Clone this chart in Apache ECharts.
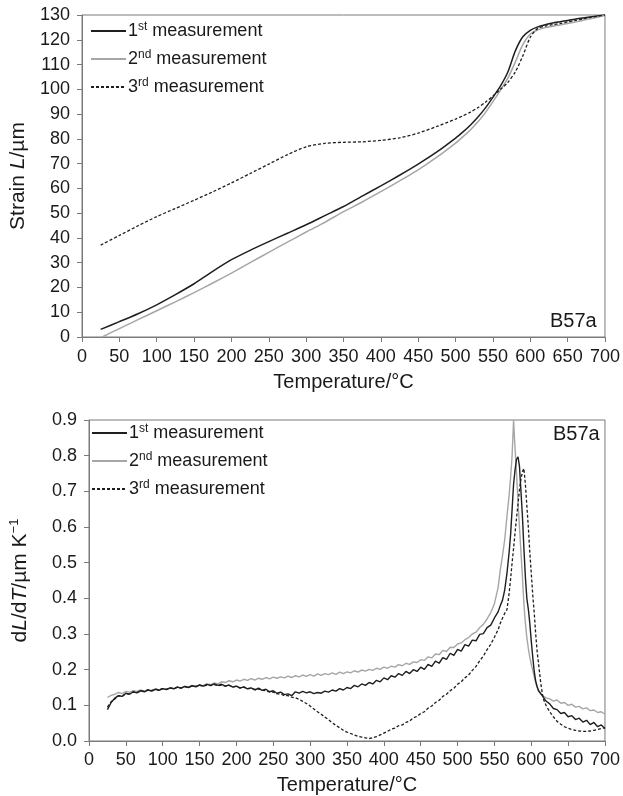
<!DOCTYPE html>
<html>
<head>
    <meta charset="utf-8">
    <script src="https://cdn.jsdelivr.net/npm/echarts@6/dist/echarts.min.js"></script>
</head>
<body style="margin:0;background-color:#fff;">
    <div id="container" style="width:623px;height:796px;"></div>
    <script type="text/javascript">
        var seriesNames = ['1st measurement', '2nd measurement', '3rd measurement'];

        // top panel: strain vs temperature, [T, L] pairs
        var strain1 = [[25, 3.1], [50, 6.2], [75, 9.4], [100, 13.0], [125, 17.1], [150, 21.5], [175, 26.5], [200, 31.2],
            [225, 35.0], [250, 38.5], [275, 41.9], [300, 45.3], [325, 49.0], [350, 52.7], [375, 56.9], [400, 61.0],
            [425, 65.3], [450, 69.8], [475, 74.7], [500, 80.3], [510, 82.8], [520, 85.6], [530, 88.8], [540, 92.5],
            [550, 96.8], [560, 101.3], [570, 107.0], [580, 115.5], [590, 121.2], [600, 123.8], [610, 125.2], [620, 126.1],
            [630, 126.8], [640, 127.3], [650, 127.8], [660, 128.3], [670, 128.8], [680, 129.2], [690, 129.6], [700, 130.0]];
        var strain2 = [[27, 0.0], [50, 3.4], [75, 7.0], [100, 10.6], [125, 14.2], [150, 17.9], [175, 21.8], [200, 25.8],
            [225, 30.0], [250, 34.2], [275, 38.3], [300, 42.4], [325, 46.3], [350, 50.6], [375, 54.5], [400, 58.7],
            [425, 63.0], [450, 67.5], [475, 72.6], [500, 78.3], [510, 80.9], [520, 83.7], [530, 86.9], [540, 90.6],
            [550, 95.0], [560, 99.6], [570, 104.5], [580, 111.0], [590, 118.0], [600, 122.3], [610, 124.0], [620, 124.9],
            [630, 125.5], [640, 126.0], [650, 126.6], [660, 127.2], [670, 127.8], [680, 128.5], [690, 129.1], [700, 129.8]];
        var strain3 = [[25, 37.1], [50, 41.0], [75, 44.9], [100, 48.6], [125, 51.9], [150, 55.2], [175, 58.6], [200, 62.2],
            [225, 66.0], [250, 69.8], [275, 73.6], [300, 76.8], [325, 78.2], [350, 78.6], [375, 78.8], [400, 79.4],
            [425, 80.4], [450, 82.3], [475, 85.0], [500, 88.0], [510, 89.3], [520, 90.8], [530, 92.6], [540, 94.8],
            [550, 97.3], [560, 100.0], [570, 102.8], [580, 107.0], [590, 113.5], [600, 121.0], [610, 124.6], [620, 125.5],
            [630, 126.1], [640, 126.6], [650, 127.2], [660, 127.8], [670, 128.4], [680, 129.0], [690, 129.5], [700, 130.0]];

        // bottom panel: dL/dT, one value per temperature
        var temps = [25, 30, 35, 40, 45, 50, 55, 60, 65, 70, 75, 80, 85, 90, 95, 100, 105, 110, 115, 120, 125, 130, 135, 140,
            145, 150, 155, 160, 165, 170, 175, 180, 185, 190, 195, 200, 205, 210, 215, 220, 225, 230, 235, 240, 245, 250,
            255, 260, 265, 270, 275, 280, 285, 290, 295, 300, 305, 310, 315, 320, 325, 330, 335, 340, 345, 350, 355, 360,
            365, 370, 375, 380, 385, 390, 395, 400, 405, 410, 415, 420, 425, 430, 435, 440, 445, 450, 455, 460, 465, 470,
            475, 480, 485, 490, 495, 500, 505, 510, 515, 520, 525, 530, 535, 540, 545, 550, 555,
            558, 561, 564, 567, 570, 572, 574, 576, 578, 580, 582, 584, 586, 588, 590, 592, 594, 596, 598, 600, 602, 604,
            606, 608, 610, 613, 616, 620,
            625, 630, 635, 640, 645, 650, 655, 660, 665, 670, 675, 680, 685, 690, 695, 700];
        var rate1 = [0.088, 0.108, 0.120, 0.127, 0.125, 0.134, 0.131, 0.138, 0.135, 0.141, 0.138, 0.143, 0.140, 0.145, 0.142, 0.147,
            0.144, 0.149, 0.146, 0.151, 0.148, 0.153, 0.150, 0.155, 0.152, 0.157, 0.154, 0.159, 0.155, 0.160, 0.156, 0.159,
            0.154, 0.157, 0.151, 0.154, 0.148, 0.152, 0.146, 0.149, 0.143, 0.148, 0.142, 0.145, 0.138, 0.141, 0.134, 0.137,
            0.130, 0.132, 0.127, 0.138, 0.134, 0.139, 0.135, 0.138, 0.133, 0.136, 0.134, 0.140, 0.137, 0.143, 0.140, 0.147,
            0.143, 0.150, 0.147, 0.156, 0.152, 0.160, 0.156, 0.164, 0.160, 0.170, 0.166, 0.177, 0.172, 0.183, 0.179, 0.189,
            0.184, 0.195, 0.189, 0.200, 0.195, 0.207, 0.201, 0.215, 0.209, 0.224, 0.218, 0.234, 0.229, 0.246, 0.240, 0.257,
            0.252, 0.270, 0.266, 0.283, 0.281, 0.299, 0.301, 0.318, 0.325, 0.345, 0.362,
            0.380, 0.395, 0.424, 0.470, 0.530, 0.580, 0.650, 0.720, 0.760, 0.790, 0.797, 0.770, 0.700, 0.630, 0.540, 0.460,
            0.400, 0.370, 0.330, 0.280, 0.235, 0.195, 0.168, 0.152, 0.141, 0.133, 0.124, 0.112,
            0.104, 0.091, 0.088, 0.077, 0.080, 0.068, 0.071, 0.060, 0.064, 0.053, 0.058, 0.046, 0.052, 0.040, 0.045, 0.035];
        var rate2 = [0.122, 0.128, 0.131, 0.136, 0.133, 0.139, 0.137, 0.141, 0.139, 0.143, 0.140, 0.144, 0.142, 0.146, 0.143, 0.147,
            0.145, 0.149, 0.147, 0.151, 0.149, 0.153, 0.151, 0.156, 0.153, 0.157, 0.155, 0.160, 0.158, 0.163, 0.160, 0.166,
            0.164, 0.169, 0.166, 0.171, 0.168, 0.173, 0.170, 0.175, 0.171, 0.176, 0.173, 0.178, 0.174, 0.179, 0.176, 0.180,
            0.177, 0.182, 0.178, 0.183, 0.180, 0.185, 0.181, 0.186, 0.182, 0.188, 0.184, 0.189, 0.186, 0.191, 0.187, 0.193,
            0.189, 0.194, 0.191, 0.197, 0.193, 0.199, 0.196, 0.201, 0.198, 0.204, 0.201, 0.207, 0.204, 0.210, 0.207, 0.214,
            0.211, 0.218, 0.215, 0.222, 0.220, 0.228, 0.226, 0.236, 0.233, 0.244, 0.242, 0.254, 0.251, 0.263, 0.262, 0.272,
            0.275, 0.284, 0.290, 0.300, 0.305, 0.318, 0.327, 0.342, 0.360, 0.385, 0.430,
            0.480, 0.520, 0.565, 0.630, 0.690, 0.740, 0.800, 0.900, 0.820, 0.750, 0.670, 0.600, 0.530, 0.460, 0.385, 0.330,
            0.290, 0.260, 0.235, 0.215, 0.198, 0.180, 0.164, 0.150, 0.139, 0.131, 0.127, 0.121,
            0.118, 0.112, 0.115, 0.106, 0.108, 0.100, 0.103, 0.095, 0.097, 0.090, 0.093, 0.085, 0.087, 0.080, 0.082, 0.075];
        var rate3 = [0.095, 0.110, 0.118, 0.127, 0.126, 0.132, 0.133, 0.137, 0.136, 0.140, 0.139, 0.143, 0.141, 0.145, 0.144, 0.147,
            0.145, 0.149, 0.147, 0.151, 0.149, 0.152, 0.151, 0.154, 0.153, 0.156, 0.154, 0.157, 0.156, 0.158, 0.155, 0.157,
            0.154, 0.156, 0.152, 0.153, 0.149, 0.151, 0.147, 0.148, 0.145, 0.146, 0.142, 0.141, 0.137, 0.137, 0.132, 0.132,
            0.127, 0.127, 0.123, 0.121, 0.117, 0.111, 0.105, 0.098, 0.090, 0.082, 0.075, 0.067, 0.060, 0.051, 0.044, 0.037,
            0.030, 0.025, 0.021, 0.017, 0.013, 0.011, 0.009, 0.007, 0.009, 0.012, 0.017, 0.022, 0.027, 0.033, 0.036, 0.043,
            0.045, 0.052, 0.056, 0.065, 0.069, 0.077, 0.082, 0.092, 0.098, 0.108, 0.114, 0.125, 0.131, 0.141, 0.148, 0.159,
            0.166, 0.177, 0.185, 0.198, 0.209, 0.225, 0.238, 0.256, 0.271, 0.291, 0.312,
            0.330, 0.345, 0.358, 0.368, 0.415, 0.455, 0.500, 0.540, 0.585, 0.625, 0.665, 0.705, 0.735, 0.755, 0.764, 0.720,
            0.660, 0.600, 0.530, 0.470, 0.410, 0.360, 0.300, 0.250, 0.215, 0.160, 0.120, 0.100,
            0.082, 0.068, 0.055, 0.047, 0.040, 0.036, 0.032, 0.030, 0.028, 0.027, 0.027, 0.028, 0.030, 0.032, 0.035, 0.037];

        function pairs(xs, ys) {
            var out = [];
            for (var i = 0; i < xs.length; i++) {
                out.push([xs[i], ys[i]]);
            }
            return out;
        }

        var font = '"Liberation Sans", Arial, sans-serif';
        var textColor = '#1a1a1a';
        var axisColor = '#7a7a7a';
        var lineColors = ['#1e1e1e', '#a6a6a6', '#1e1e1e'];

        var legendRich = {
            n: { fontSize: 18, fontFamily: font, color: textColor, lineHeight: 20 },
            sup: { fontSize: 12, fontFamily: font, color: textColor, lineHeight: 12, verticalAlign: 'top' }
        };
        function legendText(name) {
            var m = name.match(/^(\d)(st|nd|rd)( measurement)$/);
            return '{n|' + m[1] + '}{sup|' + m[2] + '}{n|' + m[3] + '}';
        }

        function xAxisCfg(gridIndex, margin, gap) {
            return {
                type: 'value', gridIndex: gridIndex, min: 0, max: 700, interval: 50,
                name: 'Temperature/\u00B0C', nameLocation: 'middle', nameGap: gap,
                nameTextStyle: { fontSize: 20, fontFamily: font, color: textColor },
                axisLine: { show: true, lineStyle: { color: axisColor, width: 1 } },
                axisTick: { show: true, inside: false, length: 5, lineStyle: { color: axisColor } },
                axisLabel: { fontSize: 18, fontFamily: font, color: textColor, margin: margin, showMinLabel: true, showMaxLabel: true },
                splitLine: { show: false }
            };
        }

        function legendCfg(left, top) {
            return {
                data: seriesNames, orient: 'vertical', left: left, top: top, padding: 0,
                itemWidth: 35, itemHeight: 12, itemGap: 9, selectedMode: false,
                itemStyle: { opacity: 0 },
                formatter: legendText, textStyle: { rich: legendRich, padding: [0, 0, 0, -3] }
            };
        }

        var dom = document.getElementById('container');
        var myChart = echarts.init(dom, null, { renderer: 'canvas' });

        var option = {
            animation: false,
            backgroundColor: '#fff',
            grid: [
                { left: 82, top: 15, width: 530, height: 322, show: true, borderColor: axisColor, borderWidth: 1, backgroundColor: 'transparent' },
                { left: 88, top: 420, width: 524, height: 322, show: true, borderColor: axisColor, borderWidth: 1, backgroundColor: 'transparent' }
            ],
            xAxis: [xAxisCfg(0, 11, 35), xAxisCfg(1, 10, 34)],
            yAxis: [
                {
                    type: 'value', gridIndex: 0, min: 0, max: 130, interval: 10,
                    name: 'Strain {it|L}/\u00B5m', nameLocation: 'middle', nameGap: 51,
                    nameTextStyle: {
                        fontSize: 21, fontFamily: font, color: textColor,
                        rich: { it: { fontSize: 21, fontFamily: font, fontStyle: 'italic', color: textColor } }
                    },
                    axisLine: { show: true, lineStyle: { color: axisColor, width: 1 } },
                    axisTick: { show: true, length: 5, lineStyle: { color: axisColor } },
                    axisLabel: { fontSize: 18, fontFamily: font, color: textColor, margin: 12 },
                    splitLine: { show: false }
                },
                {
                    type: 'value', gridIndex: 1, min: 0, max: 0.9, interval: 0.1,
                    name: 'd{it|L}/d{it|T}/\u00B5m K{sup|\u22121}', nameLocation: 'middle', nameGap: 57,
                    nameTextStyle: {
                        fontSize: 21, fontFamily: font, color: textColor, lineHeight: 24,
                        rich: {
                            it: { fontSize: 21, fontFamily: font, fontStyle: 'italic', color: textColor, lineHeight: 24 },
                            sup: { fontSize: 13, fontFamily: font, color: textColor, lineHeight: 13, verticalAlign: 'top' }
                        }
                    },
                    axisLine: { show: true, lineStyle: { color: axisColor, width: 1 } },
                    axisTick: { show: true, length: 5, lineStyle: { color: axisColor } },
                    axisLabel: {
                        fontSize: 18, fontFamily: font, color: textColor, margin: 12,
                        formatter: function (v) { return v.toFixed(1); }
                    },
                    splitLine: { show: false }
                }
            ],
            legend: [legendCfg(90, 21), legendCfg(91, 423)],
            graphic: [
                { type: 'text', left: 550, top: 311, style: { text: 'B57a', fontSize: 20, fontFamily: font, fill: textColor } },
                { type: 'text', left: 553, top: 424, style: { text: 'B57a', fontSize: 20, fontFamily: font, fill: textColor } }
            ],
            series: [
                { name: seriesNames[0], type: 'line', xAxisIndex: 0, yAxisIndex: 0, data: strain1, smooth: 0.25, symbol: 'none',
                  lineStyle: { color: lineColors[0], width: 1.5 }, itemStyle: { color: lineColors[0] } },
                { name: seriesNames[1], type: 'line', xAxisIndex: 0, yAxisIndex: 0, data: strain2, smooth: 0.25, symbol: 'none',
                  lineStyle: { color: lineColors[1], width: 1.5 }, itemStyle: { color: lineColors[1] } },
                { name: seriesNames[2], type: 'line', xAxisIndex: 0, yAxisIndex: 0, data: strain3, smooth: 0.25, symbol: 'none',
                  lineStyle: { color: lineColors[2], width: 1.3, type: [3, 2] }, itemStyle: { color: lineColors[2] } },
                { name: seriesNames[1], type: 'line', xAxisIndex: 1, yAxisIndex: 1, data: pairs(temps, rate2), symbol: 'none',
                  lineStyle: { color: lineColors[1], width: 1.4 }, itemStyle: { color: lineColors[1] } },
                { name: seriesNames[0], type: 'line', xAxisIndex: 1, yAxisIndex: 1, data: pairs(temps, rate1), symbol: 'none',
                  lineStyle: { color: lineColors[0], width: 1.4 }, itemStyle: { color: lineColors[0] } },
                { name: seriesNames[2], type: 'line', xAxisIndex: 1, yAxisIndex: 1, data: pairs(temps, rate3), symbol: 'none',
                  lineStyle: { color: lineColors[2], width: 1.3, type: [3, 2] }, itemStyle: { color: lineColors[2] } }
            ]
        };
        myChart.setOption(option);
    </script>
</body>
</html>
